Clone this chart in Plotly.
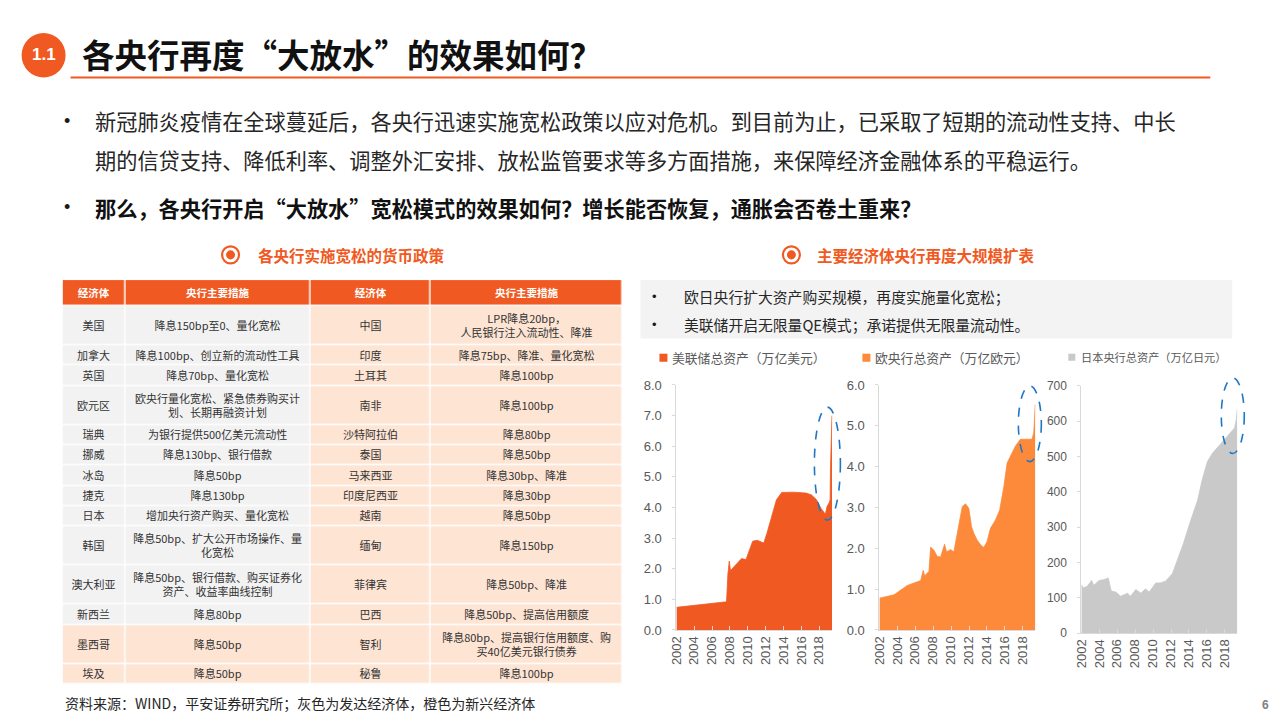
import plotly.graph_objects as go

W, H = 1280, 720
# the photographed page comes out slightly squeezed and shifted; these undo it
SX, OX = 0.994, 7.4
SY, OY = 0.971, 11.2
CJK = "Noto Sans CJK SC"
LAT = "Liberation Sans"
ORANGE = "#f05a22"
ECB_ORANGE = "#fd8a3b"
BOJ_GREY = "#c9c9c9"
GREY_CELL = "#f2f2f2"
PEACH_CELL = "#fde4d3"
AXIS_GREY = "#d9d9d9"
TICK_TXT = "#595959"

# ---------------- table data ----------------
table_header = ["经济体", "央行主要措施", "经济体", "央行主要措施"]
dev_economies = ["美国", "加拿大", "英国", "欧元区", "瑞典", "挪威", "冰岛",
                 "捷克", "日本", "韩国", "澳大利亚", "新西兰", "墨西哥", "埃及"]
dev_measures = ["降息150bp至0、量化宽松",
                "降息100bp、创立新的流动性工具",
                "降息70bp、量化宽松",
                "欧央行量化宽松、紧急债券购买计<br>划、长期再融资计划",
                "为银行提供500亿美元流动性",
                "降息130bp、银行借款",
                "降息50bp",
                "降息130bp",
                "增加央行资产购买、量化宽松",
                "降息50bp、扩大公开市场操作、量<br>化宽松",
                "降息50bp、银行借款、购买证券化<br>资产、收益率曲线控制",
                "降息80bp",
                "降息50bp",
                "降息50bp"]
# group of each left-hand row (grey = developed, orange = emerging)
dev_group = ["发达", "发达", "发达", "发达", "发达", "发达", "发达",
             "发达", "发达", "发达", "发达", "发达", "新兴", "新兴"]
em_economies = ["中国", "印度", "土耳其", "南非", "沙特阿拉伯", "泰国", "马来西亚",
                "印度尼西亚", "越南", "缅甸", "菲律宾", "巴西", "智利", "秘鲁"]
em_measures = ["LPR降息20bp，<br>人民银行注入流动性、降准",
               "降息75bp、降准、量化宽松",
               "降息100bp",
               "降息100bp",
               "降息80bp",
               "降息50bp",
               "降息30bp、降准",
               "降息30bp",
               "降息50bp",
               "降息150bp",
               "降息50bp、降准",
               "降息50bp、提高信用额度",
               "降息80bp、提高银行信用额度、购<br>买40亿美元银行债券",
               "降息100bp"]

# ---------------- balance sheet data ----------------
fed_dates = ["2002-12-18", "2004-07-01", "2006-06-01", "2008-07-30", "2008-09-24",
             "2008-11-19", "2009-01-07", "2009-05-06", "2009-10-07", "2010-04-07",
             "2010-10-06", "2011-03-02", "2011-07-06", "2012-01-04", "2012-10-03",
             "2013-02-06", "2013-09-04", "2014-03-05", "2014-10-08", "2016-01-06",
             "2017-07-05", "2018-02-07", "2018-09-05", "2019-03-06", "2019-08-28",
             "2019-11-06", "2020-02-05", "2020-03-11", "2020-03-25", "2020-04-15",
             "2020-05-06", "2020-05-27"]
fed_assets = [0.74, 0.79, 0.85, 0.92, 1.83,
              2.25, 1.94, 2.05, 2.16, 2.33,
              2.30, 2.60, 2.90, 2.93, 2.84,
              3.15, 3.70, 4.25, 4.49, 4.50,
              4.47, 4.41, 4.25, 3.97, 3.78,
              4.03, 4.16, 4.25, 5.25, 6.37,
              6.72, 7.00]

ecb_dates = ["2002-12-20", "2004-08-06", "2006-01-27", "2007-07-27", "2007-11-09",
             "2008-01-04", "2008-06-27", "2008-09-05", "2009-01-16", "2009-06-05",
             "2009-10-16", "2010-03-26", "2010-06-18", "2010-11-26", "2011-04-08",
             "2011-08-19", "2011-12-09", "2012-03-16", "2012-07-27", "2012-12-07",
             "2013-03-29", "2013-07-05", "2013-11-15", "2014-04-25", "2014-08-08",
             "2014-12-19", "2015-05-08", "2015-11-27", "2016-05-20", "2016-11-04",
             "2017-03-17", "2017-08-25", "2018-02-16", "2018-09-07", "2019-06-07",
             "2019-12-27", "2020-03-06", "2020-05-08"]
ecb_assets = [0.78, 0.86, 1.09, 1.21, 1.46,
              1.33, 1.43, 2.03, 1.95, 1.80,
              1.79, 2.10, 1.91, 1.97, 1.91,
              2.36, 2.77, 3.02, 3.09, 2.98,
              2.53, 2.36, 2.20, 2.07, 2.02,
              2.16, 2.49, 2.69, 2.94, 3.51,
              4.09, 4.30, 4.50, 4.67, 4.68,
              4.67, 4.83, 5.53]

boj_dates = ["2002-12-20", "2003-03-10", "2003-08-10", "2004-02-10", "2004-05-10",
             "2004-12-10", "2005-06-10", "2005-12-20", "2006-04-20", "2006-10-20",
             "2007-05-10", "2008-02-10", "2008-06-10", "2009-01-10", "2009-08-10",
             "2010-02-10", "2010-07-10", "2011-01-10", "2011-04-10", "2011-10-10",
             "2012-05-10", "2013-02-10", "2013-09-10", "2014-05-10", "2015-02-10",
             "2015-12-10", "2016-06-10", "2017-01-10", "2017-08-10", "2018-04-20",
             "2019-01-20", "2019-10-20", "2020-01-20", "2020-04-01", "2020-05-10"]
boj_assets = [137, 128, 132, 149, 135,
              149, 151, 156, 119, 116,
              104, 113, 104, 123, 113,
              125, 116, 133, 142, 142,
              147, 168, 206, 254, 315,
              377, 434, 486, 510, 531,
              553, 576, 581, 605, 634]

tick_years = [2002, 2004, 2006, 2008, 2010, 2012, 2014, 2016, 2018]


def px(x):
    return (x - OX) / SX / W


def py(y):
    return 1 - (y - OY) / SY / H


fig = go.Figure()

# ---------------- table (drawn as heatmap bricks on a hidden axis) ----------------
col_w = [63, 185, 120, 192]
x_edges = [0]
for w in col_w:
    x_edges.append(x_edges[-1] + w)

body_cols = [dev_economies, dev_measures, em_economies, em_measures]
n_rows = len(dev_economies)
row_lines = [max(col[i].count("<br>") + 1 for col in body_cols) for i in range(n_rows)]
HEAD_H = 26
y_edges = [HEAD_H]
for n in row_lines:
    y_edges.append(y_edges[-1] + (20 if n == 1 else 39))

body_z = [[1 if dev_group[i] == "发达" else 2] * 2 + [2, 2] for i in range(n_rows)]
body_text = [[col[i] for col in body_cols] for i in range(n_rows)]

fig.add_trace(go.Heatmap(
    x=x_edges, y=[0, HEAD_H], z=[[0, 0, 0, 0]], text=[table_header],
    texttemplate="<b>%{text}</b>", textfont=dict(family=CJK, size=10.5, color="white"),
    colorscale=[[0, ORANGE], [1, ORANGE]], showscale=False, xgap=1.5, ygap=1.5,
    hoverinfo="skip", xaxis="x4", yaxis="y4"))
fig.add_trace(go.Heatmap(
    x=x_edges, y=y_edges, z=body_z, text=body_text,
    texttemplate="%{text}", textfont=dict(family=CJK, size=11, color="#333333"),
    colorscale=[[0, GREY_CELL], [1, PEACH_CELL]], zmin=1, zmax=2,
    showscale=False, xgap=1.5, ygap=1.5, hoverinfo="skip",
    xaxis="x4", yaxis="y4"))


# ---------------- area charts ----------------
def area(dates, vals, color, n):
    return go.Scatter(x=dates, y=vals, mode="lines", fill="tozeroy",
                      line=dict(color=color, width=0.8), fillcolor=color,
                      xaxis=f"x{n}", yaxis=f"y{n}", hoverinfo="skip",
                      showlegend=False)


fig.add_trace(area(fed_dates, fed_assets, ORANGE, ""))
fig.add_trace(area(ecb_dates, ecb_assets, ECB_ORANGE, "2"))
fig.add_trace(area(boj_dates, boj_assets, BOJ_GREY, "3"))

xcommon = dict(type="date", tickmode="array",
               tickvals=[f"{y}-12-18" for y in tick_years],
               ticktext=[str(y) for y in tick_years],
               tickangle=-90, showgrid=False, zeroline=False,
               showline=True, linecolor=AXIS_GREY, linewidth=1,
               ticks="inside", ticklen=4, tickcolor=AXIS_GREY,
               tickfont=dict(family=LAT, size=13, color=TICK_TXT))
ycommon = dict(showgrid=False, zeroline=False, showline=True,
               linecolor=AXIS_GREY, linewidth=1, ticks="outside",
               ticklen=3, tickcolor=AXIS_GREY, ticklabelstandoff=8,
               tickfont=dict(family=LAT, size=13, color=TICK_TXT))

fig.update_layout(
    xaxis=dict(xcommon, domain=[px(676), px(832)], anchor="y",
               range=["2002-12-18", "2020-06-12"]),
    yaxis=dict(ycommon, domain=[py(629), py(386)], anchor="x",
               range=[0, 8], dtick=1, tickformat=".1f"),
    xaxis2=dict(xcommon, domain=[px(879), px(1035)], anchor="y2",
                range=["2002-12-18", "2020-05-10"]),
    yaxis2=dict(ycommon, domain=[py(629), py(386)], anchor="x2",
                range=[0, 6], dtick=1, tickformat=".1f"),
    xaxis3=dict(xcommon, domain=[px(1081), px(1237)], anchor="y3",
                range=["2002-12-18", "2020-05-10"]),
    yaxis3=dict(ycommon, domain=[py(632), py(387)], anchor="x3",
                range=[0, 700], dtick=100),
    xaxis4=dict(domain=[px(62), px(622)], anchor="y4", range=[0, x_edges[-1]],
                visible=False, fixedrange=True),
    yaxis4=dict(domain=[py(282 + y_edges[-1]), py(282)], anchor="x4",
                range=[y_edges[-1], 0], visible=False, fixedrange=True),
)
fig.layout.yaxis3.tickfont.size = 12

# ---------------- decorations ----------------
shapes = [
    # section number badge and title rule
    dict(type="circle", xref="paper", yref="paper", x0=px(21), x1=px(65),
         y0=py(81), y1=py(37), fillcolor=ORANGE, line=dict(width=0)),
    dict(type="line", xref="paper", yref="paper", x0=px(70), x1=px(1210),
         y0=py(81), y1=py(81), line=dict(color=ORANGE, width=2)),
    # grey box with bullets
    dict(type="rect", xref="paper", yref="paper", x0=px(640), x1=px(1232),
         y0=py(340), y1=py(282), fillcolor="#f3f3f3", line=dict(width=0),
         layer="below"),
    # legend squares
    dict(type="rect", xref="paper", yref="paper", x0=px(659), x1=px(667),
         y0=py(363), y1=py(355), fillcolor=ORANGE, line=dict(width=0)),
    dict(type="rect", xref="paper", yref="paper", x0=px(862), x1=px(870),
         y0=py(363), y1=py(355), fillcolor=ECB_ORANGE, line=dict(width=0)),
    dict(type="rect", xref="paper", yref="paper", x0=px(1068), x1=px(1075),
         y0=py(362), y1=py(355), fillcolor=BOJ_GREY, line=dict(width=0)),
]
# section icons (ring + dot)
for cx, cy in [(230, 257), (791, 257)]:
    shapes.append(dict(type="circle", xref="paper", yref="paper",
                       x0=px(cx - 8.5), x1=px(cx + 8.5), y0=py(cy + 8.5), y1=py(cy - 8.5),
                       line=dict(color=ORANGE, width=2.2), fillcolor="rgba(0,0,0,0)"))
    shapes.append(dict(type="circle", xref="paper", yref="paper",
                       x0=px(cx - 4.5), x1=px(cx + 4.5), y0=py(cy + 4.5), y1=py(cy - 4.5),
                       line=dict(width=0), fillcolor=ORANGE))
# dashed ellipses marking the 2020 expansion
for x0, x1, y0, y1 in [(814, 840, 408, 520), (1018, 1041, 387, 462), (1221, 1244, 379, 454)]:
    shapes.append(dict(type="circle", xref="paper", yref="paper",
                       x0=px(x0), x1=px(x1), y0=py(y1), y1=py(y0),
                       line=dict(color="#1f77c4", width=1.6, dash="dash")))
fig.update_layout(shapes=shapes)


def note(x, y, text, size, color="#1a1a1a", anchor="left", family=CJK):
    return dict(x=px(x), y=py(y), xref="paper", yref="paper", text=text,
                showarrow=False, xanchor=anchor, yanchor="middle",
                font=dict(family=family, size=size, color=color))


annotations = [
    note(43, 58, "<b>1.1</b>", 17, "white", "center", LAT),
    note(79, 57, "<b>各央行再度“大放水”的效果如何？</b>", 32.5, "#111111"),
    note(66, 124, "•", 18, "#1a1a1a", "center", LAT),
    note(92, 124, "新冠肺炎疫情在全球蔓延后，各央行迅速实施宽松政策以应对危机。到目前为止，已采取了短期的流动性支持、中长", 21.2, "#262626"),
    note(92, 162, "期的信贷支持、降低利率、调整外汇安排、放松监管要求等多方面措施，来保障经济金融体系的平稳运行。", 21.2, "#262626"),
    note(66, 210, "•", 18, "#1a1a1a", "center", LAT),
    note(92, 210, "<b>那么，各央行开启“大放水”宽松模式的效果如何？增长能否恢复，通胀会否卷土重来？</b>", 21.2, "#111111"),
    note(255, 257, "<b>各央行实施宽松的货币政策</b>", 15.5, ORANGE),
    note(815, 257, "<b>主要经济体央行再度大规模扩表</b>", 15.5, ORANGE),
    note(654, 298, "•", 13, "#1a1a1a", "center", LAT),
    note(682, 298, "欧日央行扩大资产购买规模，再度实施量化宽松；", 14.8, "#262626"),
    note(654, 326, "•", 13, "#1a1a1a", "center", LAT),
    note(682, 326, "美联储开启无限量QE模式；承诺提供无限量流动性。", 14.8, "#262626"),
    note(670, 359, "美联储总资产（万亿美元）", 12.8, TICK_TXT),
    note(873, 359, "欧央行总资产（万亿欧元）", 12.8, TICK_TXT),
    note(1079, 358, "日本央行总资产（万亿日元）", 11.2, TICK_TXT),
    note(62, 701, "资料来源：WIND，平安证券研究所；灰色为发达经济体，橙色为新兴经济体", 14, "#262626"),
    note(1265, 703, "<b>6</b>", 12, "#7f7f7f", "center", LAT),
]
fig.update_layout(annotations=annotations)

fig.update_layout(width=W, height=H, margin=dict(l=0, r=0, t=0, b=0),
                  paper_bgcolor="white", plot_bgcolor="white",
                  showlegend=False)

# drop the default page margin so the 1280x720 figure fills the window exactly
fig.write_html("out.html", config={"displayModeBar": False},
               post_script="document.body.style.margin='0';")
